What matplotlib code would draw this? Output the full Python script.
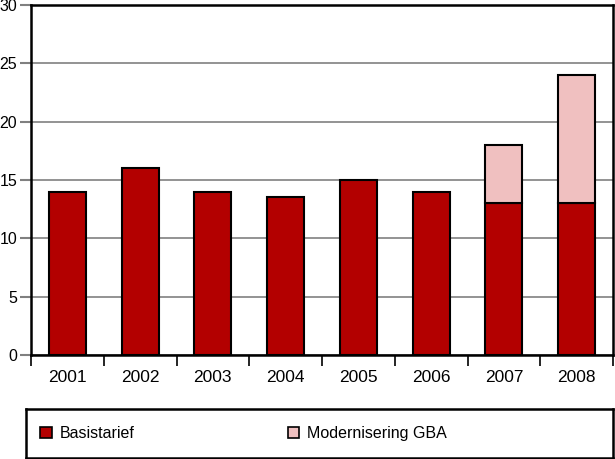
import matplotlib
matplotlib.use("Agg")
import matplotlib.pyplot as plt
from matplotlib.patches import Patch
import numpy as np

years = ["2001", "2002", "2003", "2004", "2005", "2006", "2007", "2008"]
basistarief = [14, 16, 14, 13.5, 15, 14, 13, 13]
modernisering = [0, 0, 0, 0, 0, 0, 5, 11]
yticks = [0, 5, 10, 15, 20, 25, 30]

plt.rcParams['font.family'] = ['Liberation Sans Narrow', 'Liberation Sans', 'DejaVu Sans']

dark_red = "#B30000"
pink = "#F0C0C0"

fig = plt.figure(figsize=(6.15, 4.59), dpi=100)
ax = fig.add_axes([31/615, 1-355/459, 582/615, 350/459])

x = np.arange(len(years))
w = 0.51
ax.bar(x, basistarief, width=w, color=dark_red, edgecolor="black", linewidth=1.5, zorder=3)
mod = np.array(modernisering, dtype=float)
mask = mod > 0
ax.bar(x[mask], mod[mask], width=w, bottom=np.array(basistarief)[mask], color=pink,
       edgecolor="black", linewidth=1.5, zorder=3)

ax.set_xlim(-0.5, len(years) - 0.5)
ax.set_ylim(0, 30)
ax.set_yticks(yticks)
ax.set_yticklabels([str(v) for v in yticks], fontsize=11.5)
ax.yaxis.grid(True, color="#808080", linewidth=1.2, zorder=0)
ax.set_axisbelow(True)

ax.set_xticks(x)
ax.set_xticklabels(years, fontsize=12.5)
ax.set_xticks(np.arange(-0.5, len(years)), minor=True)
ax.tick_params(axis='x', which='major', length=0, pad=11)
ax.tick_params(axis='x', which='minor', length=8, width=1.2, color="black", direction='out')
ax.tick_params(axis='y', which='major', length=8, width=1.5, color="#808080", direction='out', pad=2)

for s in ax.spines.values():
    s.set_color("black")
    s.set_linewidth(1.8)

lax = fig.add_axes([26/615, 1/459, 587/615, 49/459])
lax.set_xticks([])
lax.set_yticks([])
for s in lax.spines.values():
    s.set_color("black")
    s.set_linewidth(1.8)

h1 = Patch(facecolor=dark_red, edgecolor="black", linewidth=1.2)
h2 = Patch(facecolor=pink, edgecolor="black", linewidth=1.2)
leg1 = lax.legend([h1], ["Basistarief"], loc="center left", bbox_to_anchor=(0.0, 0.5),
                  frameon=False, fontsize=11.5, handlelength=0.75, handleheight=0.75,
                  handletextpad=0.45)
lax.add_artist(leg1)
lax.legend([h2], ["Modernisering GBA"], loc="center left", bbox_to_anchor=(0.421, 0.5),
           frameon=False, fontsize=11.5, handlelength=0.75, handleheight=0.75,
           handletextpad=0.45)

fig.savefig("out.png", dpi=100)
